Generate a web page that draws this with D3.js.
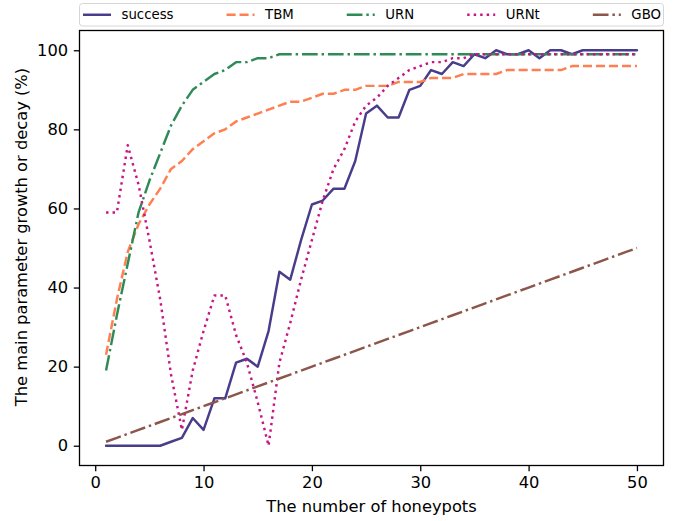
<!DOCTYPE html>
<html>
<head>
<meta charset="utf-8">
<script src="https://cdn.jsdelivr.net/npm/d3@7"></script>
<style>
  body { margin: 0; background: #ffffff; }
  svg text { font-family: "DejaVu Sans", sans-serif; fill: #000; }
</style>
</head>
<body>
<div id="chart"></div>
<script>
const honeypots = d3.range(1, 51)

const success = [0, 0, 0, 0, 0, 0, 1, 2, 7, 4, 12, 12, 21, 22, 20, 29, 44, 42, 52, 61,
                 62, 65, 65, 72, 84, 86, 83, 83, 90, 91, 95, 94, 97, 96, 99, 98, 100, 99, 99, 100,
                 98, 100, 100, 99, 100, 100, 100, 100, 100, 100]
const tbm = [23, 37, 49, 56, 61, 65, 70, 72, 75, 77, 79, 80, 82, 83, 84, 85, 86, 87, 87, 88,
             89, 89, 90, 90, 91, 91, 91, 92, 92, 92, 93, 93, 93, 94, 94, 94, 94, 95, 95, 95,
             95, 95, 95, 96, 96, 96, 96, 96, 96, 96]
const urn = [19, 33, 46, 59, 67, 74, 81, 86, 90, 92, 94, 95, 97, 97, 98, 98, 99, 99, 99, 99,
             99, 99, 99, 99, 99, 99, 99, 99, 99, 99, 99, 99, 99, 99, 99, 99, 99, 99, 99, 99,
             99, 99, 99, 99, 99, 99, 99, 99, 99, 99]
const urnt = [59, 59, 76, 66, 52, 37, 18, 4, 19, 29, 38, 38, 28, 21, 11, 0, 21, 31, 42, 52,
              62, 70, 75, 82, 86, 88, 91, 93, 95, 96, 97, 97, 98, 98, 99, 99, 99, 99, 99, 99,
              99, 99, 99, 99, 99, 99, 99, 99, 99, 99]
const gbo = [1, 2, 3, 4, 5, 6, 7, 8, 9, 10, 11, 12, 13, 14, 15, 16, 17, 18, 19, 20,
             21, 22, 23, 24, 25, 26, 27, 28, 29, 30, 31, 32, 33, 34, 35, 36, 37, 38, 39, 40,
             41, 42, 43, 44, 45, 46, 47, 48, 49, 50]

const series_names = ['success', 'TBM', 'URN', 'URNt', 'GBO']
const series_values = [success, tbm, urn, urnt, gbo]
const x_ticks = [0, 10, 20, 30, 40, 50]
const y_ticks = [0, 20, 40, 60, 80, 100]
const x_label = 'The number of honeypots'
const y_label = 'The main parameter growth or decay (%)'

const svg_width = 677,
      svg_height = 521,
      plot_left = 79.5,
      plot_right = 663.5,
      plot_top = 30.5,
      plot_bottom = 465.5,
      font_size = 16.3,
      legend_font_size = 13.3,
      line_width = 2.45,
      tick_length = 5.7

const line_styles = {
  success: {color: '#483D8B', dash: null},
  TBM: {color: '#FF7F50', dash: '9.1,3.9'},
  URN: {color: '#2E8B57', dash: '15.7,3.9,2.45,3.9'},
  URNt: {color: '#C71585', dash: '2.45,4.05'},
  GBO: {color: '#8C564B', dash: '15.7,3.9,2.45,3.9'}
}

function initialize_workspace() {
  let svg = d3.select('#chart')
    .append('svg')
    .attr('width', svg_width)
    .attr('height', svg_height)
  svg.append('rect')
    .attr('width', svg_width)
    .attr('height', svg_height)
    .style('fill', '#ffffff')
  return(svg)
}

function draw_axes(svg, x, y) {
  let x_axis = svg.append('g')
    .attr('transform', `translate(0,${plot_bottom})`)
    .call(d3.axisBottom(x).tickValues(x_ticks).tickSize(tick_length).tickPadding(5.2).tickSizeOuter(0))
  let y_axis = svg.append('g')
    .attr('transform', `translate(${plot_left},0)`)
    .call(d3.axisLeft(y).tickValues(y_ticks).tickSize(tick_length).tickPadding(5.7).tickSizeOuter(0))

  for (axis of [x_axis, y_axis]) {
    axis.select('.domain').remove()
    axis.selectAll('.tick line').style('stroke', '#000').style('stroke-width', 1.3)
    axis.selectAll('.tick text')
      .style('font-size', font_size + 'px')
      .style('font-family', '"DejaVu Sans", sans-serif')
      .style('fill', '#000')
  }

  svg.append('text')
    .attr('x', (plot_left + plot_right) / 2)
    .attr('y', 512)
    .attr('text-anchor', 'middle')
    .style('font-size', font_size + 'px')
    .text(x_label)

  svg.append('text')
    .attr('transform', `translate(21.5,237) rotate(-90)`)
    .attr('text-anchor', 'middle')
    .attr('dy', '0.35em')
    .style('font-size', font_size + 'px')
    .text(y_label)
}

function draw_lines(svg, x, y) {
  let line = d3.line()
    .x((d, i) => x(honeypots[i]))
    .y(d => y(d))

  series_names.forEach((name, k) => {
    let style = line_styles[name]
    svg.append('path')
      .datum(series_values[k])
      .attr('d', line)
      .style('fill', 'none')
      .style('stroke', style.color)
      .style('stroke-width', line_width)
      .style('stroke-linejoin', 'round')
      .style('stroke-linecap', style.dash ? 'butt' : 'round')
      .style('stroke-dasharray', style.dash)
  })
}

function draw_frame(svg) {
  svg.append('rect')
    .attr('x', plot_left)
    .attr('y', plot_top)
    .attr('width', plot_right - plot_left)
    .attr('height', plot_bottom - plot_top)
    .style('fill', 'none')
    .style('stroke', '#000')
    .style('stroke-width', 1.3)
}

function draw_legend(svg) {
  let legend = svg.append('g').attr('class', 'legend')
  let frame_top = 3.5, frame_height = 22.5
  let row_y = frame_top + frame_height / 2
  let handle_length = 28, handle_pad = 10.5, border_pad = 3

  legend.append('rect')
    .attr('x', plot_left)
    .attr('y', frame_top)
    .attr('width', plot_right - plot_left)
    .attr('height', frame_height)
    .attr('rx', 3)
    .style('fill', 'rgba(255,255,255,0.8)')
    .style('stroke', '#d6d6d6')
    .style('stroke-width', 1)

  let labels = series_names.map(name => legend.append('text')
    .attr('y', row_y)
    .attr('dy', '0.35em')
    .style('font-size', legend_font_size + 'px')
    .text(name))

  let widths = labels.map(t => handle_length + handle_pad + t.node().getComputedTextLength())
  let content_width = (plot_right - plot_left) - 2 * border_pad
  let sep = (content_width - d3.sum(widths)) / (widths.length - 1)

  let pos = plot_left + border_pad + 0.5
  series_names.forEach((name, k) => {
    let style = line_styles[name]
    legend.append('line')
      .attr('x1', pos)
      .attr('x2', pos + handle_length)
      .attr('y1', row_y)
      .attr('y2', row_y)
      .style('stroke', style.color)
      .style('stroke-width', line_width)
      .style('stroke-dasharray', style.dash)
    labels[k].attr('x', pos + handle_length + handle_pad)
    pos += widths[k] + sep
  })
}

function main() {
  let svg = initialize_workspace()

  let x = d3.scaleLinear().domain([-1.45, 52.45]).range([plot_left, plot_right])
  let y = d3.scaleLinear().domain([-5, 105]).range([plot_bottom, plot_top])

  draw_axes(svg, x, y)
  draw_lines(svg, x, y)
  draw_frame(svg)
  draw_legend(svg)
}

main()
</script>
</body>
</html>
